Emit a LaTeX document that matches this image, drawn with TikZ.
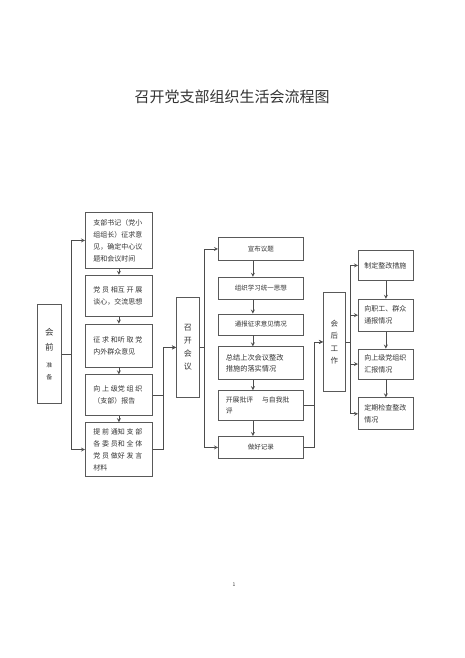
\documentclass[tikz,border=0pt]{standalone}
\usepackage{fontspec}
\setmainfont{Noto Sans CJK SC}
\usepackage{xcolor}
\usetikzlibrary{positioning, arrows}

\begin{document}
\begin{tikzpicture}[x=1pt, y=-1pt, >={stealth},
  every node/.style={text=black!80},
  box/.style={draw=black!65, line width=0.8pt, rectangle, inner sep=0pt},
  leftbox/.style={box, text width=51pt, minimum width=67pt, align=left, font=\fontsize{7}{12}\selectfont},
  midbox/.style={box, text width=70pt, minimum width=85pt, align=center, font=\fontsize{6.5}{11}\selectfont},
  rightbox/.style={box, text width=43pt, minimum width=55pt, align=left, font=\fontsize{7}{12}\selectfont},
  headbox/.style={box, text width=10pt, align=center, font=\fontsize{8}{13}\selectfont},
  link/.style={->, draw=black!70, line width=0.8pt}]
  \useasboundingbox (0,0) rectangle (465,658);

  \node (title) at (232,97) {\fontsize{15}{18}\selectfont 召开党支部组织生活会流程图};
  \node (pagenum) at (234,585) {\fontsize{5}{6}\selectfont 1};

  % stage heads
  \node (pre) [headbox, minimum width=24pt, minimum height=99pt, anchor=north west, font=\fontsize{8.5}{15}\selectfont] at (37,304)
    {会\\前\\[2pt]{\fontsize{6}{6}\selectfont 准}\\[-3pt]{\fontsize{6}{6}\selectfont 备}};
  \node (meet) [headbox, minimum width=23pt, minimum height=100pt, anchor=north west] at (176,297) {召\\开\\会\\议};
  \node (post) [headbox, minimum width=22pt, minimum height=99pt, anchor=north west, font=\fontsize{7.5}{12.5}\selectfont] at (323,292) {会\\后\\工\\作};

  % before the meeting
  \node (b1) [leftbox, minimum height=56pt, anchor=north west] at (85,212) {支部书记（党小\\组组长）征求意\\见，确定中心议\\题和会议时间};
  \node (b2) [leftbox, minimum height=41pt, below=6pt of b1] {\makebox[49pt]{党\hfill 员\hfill 相互\hfill 开\hfill 展}\\谈心，交流思想};
  \node (b3) [leftbox, minimum height=43pt, below=7pt of b2] {\makebox[49pt]{征\hfill 求\hfill 和听\hfill 取\hfill 党}\\内外群众意见};
  \node (b4) [leftbox, minimum height=41pt, below=7pt of b3] {\makebox[49pt]{向\hfill 上\hfill 级党\hfill 组\hfill 织}\\（支部）报告};
  \node (b5) [leftbox, minimum height=54pt, below=6pt of b4] {\makebox[49pt]{提\hfill 前\hfill 通知\hfill 支\hfill 部}\\\makebox[49pt]{各\hfill 委\hfill 员和\hfill 全\hfill 体}\\\makebox[49pt]{党\hfill 员\hfill 做好\hfill 发\hfill 言}\\材料};

  % the meeting
  \node (m1) [midbox, minimum height=23pt, anchor=north west] at (218,237) {宣布议题};
  \node (m2) [midbox, minimum height=22pt, below=16pt of m1] {组织学习统一思想};
  \node (m3) [midbox, minimum height=21pt, below=14pt of m2] {通报征求意见情况};
  \node (m4) [midbox, minimum height=33pt, below=11pt of m3, align=left, font=\fontsize{7.2}{11}\selectfont] {总结上次会议整改\\措施的落实情况};
  \node (m5) [midbox, minimum height=30pt, below=10pt of m4, align=left, font=\fontsize{6.8}{11}\selectfont] {开展批评\quad\ 与自我批\\评};
  \node (m6) [midbox, minimum height=22pt, below=15pt of m5] {做好记录};

  % after the meeting
  \node (r1) [rightbox, minimum height=30pt, anchor=north west] at (358,250) {制定整改措施};
  \node (r2) [rightbox, minimum height=32pt, below=18pt of r1] {向职工、群众\\通报情况};
  \node (r3) [rightbox, minimum height=30pt, below=17pt of r2] {向上级党组织\\汇报情况};
  \node (r4) [rightbox, minimum height=32pt, below=18pt of r3] {定期检查整改\\情况};

  \draw [link] (pre.east) -- ++(10,0) |- (b1.west);
  \draw [link] (pre.east) -- ++(10,0) |- (b5.west);
  \draw [link] (b1) -- (b2);
  \draw [link] (b2) -- (b3);
  \draw [link] (b3) -- (b4);
  \draw [link] (b4) -- (b5);
  \draw [link] (b4.east) -- ++(11,0) |- (meet.west);
  \draw [link] (b5.east) -- ++(11,0) |- (meet.west);

  \draw [link] (meet.east) -- ++(5,0) |- (m1.west);
  \draw [link] (meet.east) -- ++(5,0) |- (m6.west);
  \draw [link] ([xshift=-8pt]m1.south) -- ([xshift=-8pt]m2.north);
  \draw [link] ([xshift=-8pt]m2.south) -- ([xshift=-8pt]m3.north);
  \draw [link] ([xshift=-8pt]m3.south) -- ([xshift=-8pt]m4.north);
  \draw [link] ([xshift=-8pt]m4.south) -- ([xshift=-8pt]m5.north);
  \draw [link] ([xshift=-8pt]m5.south) -- ([xshift=-8pt]m6.north);
  \draw [link] (m5.east) -- ++(11,0) |- (post.west);
  \draw [link] (m6.east) -- ++(11,0) |- (post.west);

  \draw [link] (post.east) -- ++(5,0) |- (r1.west);
  \draw [link] (post.east) -- ++(5,0) |- (r2.west);
  \draw [link] (post.east) -- ++(5,0) |- (r3.west);
  \draw [link] (post.east) -- ++(5,0) |- (r4.west);
  \draw [link] (r1) -- (r2);
  \draw [link] (r2) -- (r3);
  \draw [link] (r3) -- (r4);
\end{tikzpicture}
\end{document}
